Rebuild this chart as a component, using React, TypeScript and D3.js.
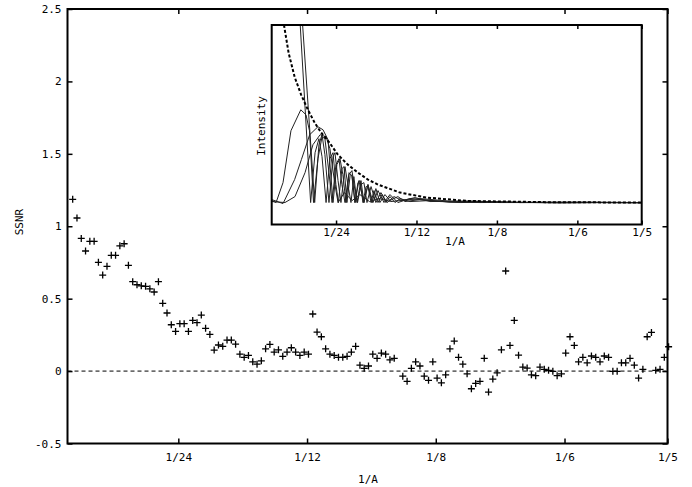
import React, { useEffect, useRef } from 'react';
import * as d3 from 'd3';

const WIDTH = 692;
const HEIGHT = 487;
const FONT = '"DejaVu Sans Mono", "Liberation Mono", monospace';

// --- Data ---
// SSNR per resolution shell, shells evenly spaced in 1/A
const freqStart = 0.00748;
const freqStep = 0.0013876;
const ssnrValues: (number | null)[] = [
  1.186, 1.057, 0.916, 0.829, 0.896, 0.896, 0.751, 0.663, 0.723, 0.799,
  0.799, 0.865, 0.879, 0.730, 0.617, 0.596, 0.589, 0.585, 0.568, 0.546,
  0.617, 0.468, 0.401, 0.320, 0.274, 0.327, 0.327, 0.274, 0.350, 0.334,
  0.387, 0.295, 0.253, 0.145, 0.180, 0.171, 0.214, 0.214, 0.186, 0.117,
  0.095, 0.108, 0.064, 0.048, 0.071, 0.154, 0.184, 0.131, 0.147, 0.102,
  0.131, 0.161, 0.131, 0.108, 0.131, 0.117, 0.394, 0.269, 0.237, 0.154,
  0.117, 0.108, 0.095, 0.095, 0.102, 0.131, 0.171, 0.041, 0.019, 0.035,
  0.117, 0.088, 0.124, 0.117, 0.078, 0.088, null, -0.035, -0.071, 0.019,
  0.064, 0.035, -0.035, -0.064, 0.064, -0.048, -0.081, -0.026, 0.154, 0.207,
  0.095, 0.048, -0.019, -0.122, -0.085, -0.071, 0.088, -0.145, -0.055, -0.012,
  0.147, 0.691, 0.177, 0.350, 0.110, 0.028, 0.021, -0.026, -0.032, 0.028,
  0.012, 0.005, -0.002, -0.032, -0.019, 0.124, 0.237, 0.177, 0.064, 0.095,
  0.057, 0.104, 0.095, 0.064, 0.104, 0.095, -0.002, -0.002, 0.057, 0.057,
  0.088, 0.041, -0.048, 0.012, 0.237, 0.267, 0.005, 0.012, 0.095, 0.168,
];

const xTickValues = [1 / 24, 1 / 12, 1 / 8, 1 / 6, 1 / 5];
const xTickLabels = ['1/24', '1/12', '1/8', '1/6', '1/5'];
const yTickValues = [-0.5, 0, 0.5, 1, 1.5, 2, 2.5];
const yTickLabels = ['-0.5', '0', '0.5', '1', '1.5', '2', '2.5'];

// inset: envelope (dashed) and power spectra [1/A, intensity]
const envelope: [number, number][] = [
  [0.0137, 1.10], [0.0147, 1.00], [0.0171, 0.86], [0.0202, 0.74], [0.0236, 0.65],
  [0.0271, 0.575], [0.0306, 0.51], [0.0340, 0.46], [0.0383, 0.41], [0.0426, 0.35],
  [0.0478, 0.30], [0.0530, 0.26], [0.0582, 0.225], [0.0634, 0.20], [0.0748, 0.16],
  [0.0886, 0.135], [0.1100, 0.118], [0.1500, 0.112], [0.2000, 0.11],
];

const spectrumA: [number, number][] = [
  [0.0222, 1.15], [0.0285, 0.11], [0.0308, 0.36], [0.0328, 0.43], [0.0344, 0.34],
  [0.0365, 0.11], [0.0385, 0.33], [0.0401, 0.36], [0.0416, 0.20], [0.0429, 0.11],
  [0.0447, 0.28], [0.0458, 0.29], [0.0473, 0.11], [0.0489, 0.24], [0.0499, 0.25],
  [0.0515, 0.11], [0.0530, 0.21], [0.0541, 0.22], [0.0556, 0.11], [0.0572, 0.19],
  [0.0582, 0.19], [0.0598, 0.11], [0.0613, 0.17], [0.0634, 0.11], [0.0655, 0.15],
  [0.0675, 0.11], [0.0696, 0.14], [0.0722, 0.11], [0.0748, 0.13], [0.0800, 0.115],
  [0.0903, 0.12], [0.1059, 0.11], [0.1266, 0.113], [0.1577, 0.108], [0.1784, 0.11],
  [0.2000, 0.108],
];

const spectrumB: [number, number][] = [
  [0.0233, 1.15], [0.0306, 0.11], [0.0328, 0.40], [0.0344, 0.45], [0.0359, 0.35],
  [0.0380, 0.11], [0.0401, 0.34], [0.0411, 0.36], [0.0427, 0.22], [0.0442, 0.11],
  [0.0463, 0.29], [0.0478, 0.20], [0.0494, 0.11], [0.0509, 0.24], [0.0525, 0.11],
  [0.0546, 0.22], [0.0561, 0.11], [0.0582, 0.20], [0.0603, 0.11], [0.0623, 0.18],
  [0.0644, 0.11], [0.0670, 0.15], [0.0696, 0.12], [0.0737, 0.14], [0.0774, 0.115],
  [0.0851, 0.125], [0.1007, 0.112], [0.1162, 0.115], [0.1370, 0.11], [0.1680, 0.112],
  [0.2000, 0.11],
];

const spectrumC: [number, number][] = [
  [0.0083, 0.12], [0.0106, 0.11], [0.0142, 0.21], [0.0183, 0.47], [0.0234, 0.575],
  [0.0261, 0.55], [0.0279, 0.47], [0.0300, 0.11], [0.0323, 0.33], [0.0344, 0.44],
  [0.0359, 0.43], [0.0380, 0.26], [0.0396, 0.11], [0.0416, 0.30], [0.0432, 0.33],
  [0.0447, 0.20], [0.0463, 0.11], [0.0484, 0.26], [0.0499, 0.24], [0.0515, 0.11],
  [0.0535, 0.22], [0.0561, 0.11], [0.0582, 0.20], [0.0608, 0.11], [0.0634, 0.17],
  [0.0665, 0.11], [0.0696, 0.15], [0.0737, 0.11], [0.0800, 0.13], [0.0955, 0.115],
  [0.1162, 0.11], [0.1473, 0.112], [0.2000, 0.11],
];

const spectrumD: [number, number][] = [
  [0.0083, 0.125], [0.0142, 0.105], [0.0202, 0.225], [0.0237, 0.325], [0.0280, 0.45],
  [0.0323, 0.49], [0.0349, 0.475], [0.0375, 0.425], [0.0401, 0.11], [0.0421, 0.30],
  [0.0437, 0.33], [0.0452, 0.25], [0.0468, 0.11], [0.0484, 0.25], [0.0499, 0.27],
  [0.0515, 0.17], [0.0528, 0.11], [0.0546, 0.20], [0.0561, 0.21], [0.0577, 0.11],
  [0.0598, 0.19], [0.0623, 0.11], [0.0649, 0.16], [0.0681, 0.11], [0.0717, 0.14],
  [0.0758, 0.12], [0.0826, 0.135], [0.0903, 0.115], [0.1110, 0.118], [0.1370, 0.11],
  [0.2000, 0.11],
];

const spectrumE: [number, number][] = [
  [0.0083, 0.115], [0.0152, 0.11], [0.0204, 0.14], [0.0256, 0.26], [0.0297, 0.40],
  [0.0334, 0.45], [0.0365, 0.44], [0.0385, 0.38], [0.0411, 0.20], [0.0427, 0.11],
  [0.0460, 0.16], [0.0500, 0.12], [0.0540, 0.15], [0.0590, 0.115], [0.0640, 0.13],
  [0.0700, 0.115], [0.0851, 0.13], [0.1007, 0.117], [0.1266, 0.11], [0.2000, 0.11],
];

const spectra = [spectrumA, spectrumB, spectrumC, spectrumD, spectrumE];
const insetTickLabels = ['1/24', '1/12', '1/8', '1/6', '1/5'];

const App = () => {
  const svgRef = useRef<SVGSVGElement>(null);

  useEffect(() => {
    if (!svgRef.current) return;
    const svg = d3.select(svgRef.current);
    svg.selectAll('*').remove();

    // --- main plot ---
    const box = { left: 67.5, right: 667.5, top: 9, bottom: 443.5 };
    const x = d3.scaleLinear().domain([0.0058, 0.2]).range([box.left, box.right]);
    const y = d3.scaleLinear().domain([-0.5, 2.5]).range([box.bottom, box.top]);

    svg.append('line')
      .attr('x1', box.left).attr('x2', box.right)
      .attr('y1', y(0)).attr('y2', y(0))
      .attr('stroke', '#000').attr('stroke-width', 1)
      .attr('stroke-dasharray', '4,3');

    const points = ssnrValues
      .map((v, i) => ({ f: freqStart + i * freqStep, v }))
      .filter(d => d.v !== null) as { f: number; v: number }[];

    svg.append('g').selectAll('path').data(points).enter().append('path')
      .attr('d', 'M-3.5,0H3.5M0,-3.5V3.5')
      .attr('transform', d => `translate(${x(d.f)},${y(d.v)})`)
      .attr('stroke', '#000').attr('stroke-width', 1.3).attr('fill', 'none');

    const styleAxis = (g: any) => {
      g.select('.domain').remove();
      g.selectAll('line').attr('stroke', '#000').attr('stroke-width', 1.5);
      g.selectAll('text').attr('fill', '#000').style('font-family', FONT).style('font-size', '11px');
    };

    svg.append('g').attr('transform', `translate(0,${box.bottom})`)
      .call(d3.axisBottom(x).tickValues(xTickValues).tickFormat((d, i) => xTickLabels[i])
        .tickSizeInner(-5).tickSizeOuter(0).tickPadding(10))
      .call(styleAxis);
    svg.append('g').attr('transform', `translate(0,${box.top})`)
      .call(d3.axisTop(x).tickValues(xTickValues).tickFormat(() => '').tickSizeInner(-5).tickSizeOuter(0))
      .call(styleAxis);
    svg.append('g').attr('transform', `translate(${box.left},0)`)
      .call(d3.axisLeft(y).tickValues(yTickValues).tickFormat((d, i) => yTickLabels[i])
        .tickSizeInner(-5).tickSizeOuter(0).tickPadding(6))
      .call(styleAxis);
    svg.append('g').attr('transform', `translate(${box.right},0)`)
      .call(d3.axisRight(y).tickValues(yTickValues).tickFormat(() => '').tickSizeInner(-5).tickSizeOuter(0))
      .call(styleAxis);

    svg.append('rect')
      .attr('x', box.left).attr('y', box.top)
      .attr('width', box.right - box.left).attr('height', box.bottom - box.top)
      .attr('fill', 'none').attr('stroke', '#000').attr('stroke-width', 2);

    svg.append('text').attr('x', 368).attr('y', 483).attr('text-anchor', 'middle')
      .style('font-family', FONT).style('font-size', '11px').text('1/A');
    svg.append('text').attr('transform', 'translate(23,222) rotate(-90)').attr('text-anchor', 'middle')
      .style('font-family', FONT).style('font-size', '11px').text('SSNR');

    // --- inset ---
    const ib = { left: 271.7, right: 641.7, top: 25, bottom: 224.5 };
    const xi = d3.scaleLinear().domain([1 / 120, 0.2]).range([ib.left, ib.right]);
    const yi = d3.scaleLinear().domain([0, 1]).range([ib.bottom, ib.top]);

    svg.append('rect')
      .attr('x', ib.left).attr('y', ib.top)
      .attr('width', ib.right - ib.left).attr('height', ib.bottom - ib.top)
      .attr('fill', '#fff');

    svg.append('clipPath').attr('id', 'inset-clip').append('rect')
      .attr('x', ib.left).attr('y', ib.top)
      .attr('width', ib.right - ib.left).attr('height', ib.bottom - ib.top);

    const line = d3.line<[number, number]>().x(d => xi(d[0])).y(d => yi(d[1]));
    const curves = svg.append('g').attr('clip-path', 'url(#inset-clip)');
    curves.selectAll('path.spec').data(spectra).enter().append('path')
      .attr('class', 'spec')
      .attr('d', d => line(d))
      .attr('fill', 'none').attr('stroke', '#222').attr('stroke-width', 1);
    curves.append('path')
      .attr('d', line(envelope))
      .attr('fill', 'none').attr('stroke', '#000').attr('stroke-width', 2)
      .attr('stroke-dasharray', '3,2');

    svg.append('g').attr('transform', `translate(0,${ib.bottom})`)
      .call(d3.axisBottom(xi).tickValues(xTickValues).tickFormat((d, i) => insetTickLabels[i])
        .tickSizeInner(-4).tickSizeOuter(0).tickPadding(4))
      .call(styleAxis);
    svg.append('g').attr('transform', `translate(0,${ib.top})`)
      .call(d3.axisTop(xi).tickValues(xTickValues).tickFormat(() => '').tickSizeInner(-4).tickSizeOuter(0))
      .call(styleAxis);

    svg.append('rect')
      .attr('x', ib.left).attr('y', ib.top)
      .attr('width', ib.right - ib.left).attr('height', ib.bottom - ib.top)
      .attr('fill', 'none').attr('stroke', '#000').attr('stroke-width', 2);

    svg.append('text').attr('x', 455).attr('y', 245).attr('text-anchor', 'middle')
      .style('font-family', FONT).style('font-size', '11px').text('1/A');
    svg.append('text').attr('transform', 'translate(265,126) rotate(-90)').attr('text-anchor', 'middle')
      .style('font-family', FONT).style('font-size', '11px').text('Intensity');
  }, []);

  return (
    <svg
      ref={svgRef}
      width={WIDTH}
      height={HEIGHT}
      style={{ position: 'absolute', left: 0, top: 0, background: '#fff' }}
    />
  );
};

export default App;
